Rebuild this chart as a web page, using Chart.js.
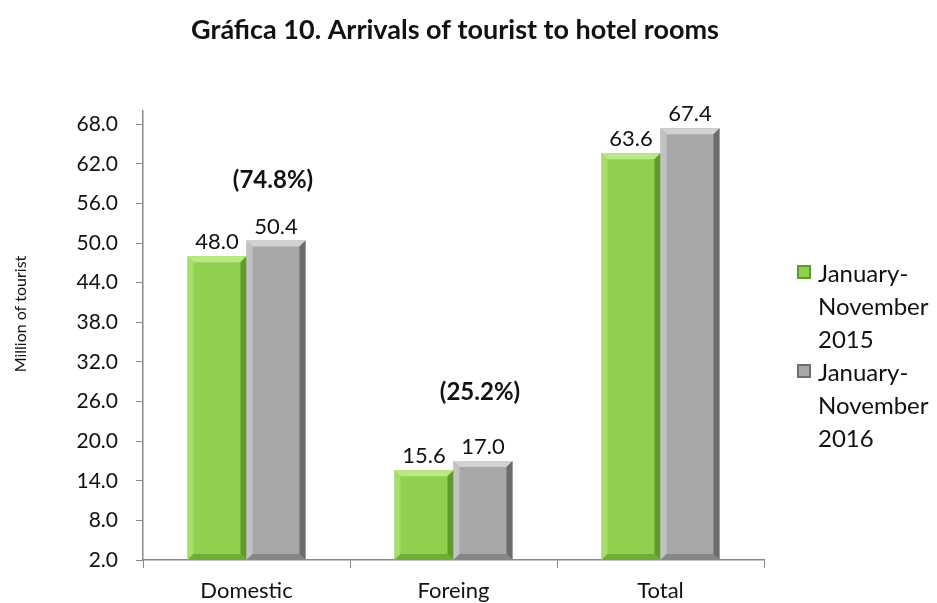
<!DOCTYPE html>
<html>
<head>
<meta charset="utf-8">
<script src="https://cdn.jsdelivr.net/npm/chart.js@4"></script>
<style>
  body { margin: 0; background: #fff; }
  #wrap { position: relative; width: 937px; height: 603px; overflow: hidden; }
  #legend { position: absolute; left: 797px; top: 256px; font-family: Lato, sans-serif; font-size: 24px; color: #111; line-height: 33px; white-space: nowrap; }
  .item { position: relative; padding-left: 21px; }
  .box { position: absolute; left: 0; top: 9px; width: 14px; height: 14px; }
</style>
</head>
<body>
<div id="wrap">
  <canvas id="chart" width="937" height="603"></canvas>
  <div id="legend"></div>
</div>
<script>
  const categories = ["Domestic", "Foreing", "Total"];
  const series2015 = [48.0, 15.6, 63.6];
  const series2016 = [50.4, 17.0, 67.4];
  const seriesNames = [["January-", "November", "2015"], ["January-", "November", "2016"]];
  const yTicks = [2, 8, 14, 20, 26, 32, 38, 44, 50, 56, 62, 68];
  const shareLabels = ["(74.8%)", "(25.2%)", null];
  const shareOffsets = [-60, -69, 0];

  const faces = [
    { face: "#8fd14f", top: "#b9e985", left: "#a6dd6c", right: "#5e9a2c", bottom: "#6fae36" },
    { face: "#a8a8a8", top: "#d2d2d2", left: "#c2c2c2", right: "#6c6c6c", bottom: "#868686" },
  ];
  const font = "Lato, sans-serif";

  const bevel = {
    id: "bevel",
    afterDatasetsDraw(chart) {
      const c = chart.ctx;
      chart.data.datasets.forEach((ds, di) => {
        const col = faces[di];
        chart.getDatasetMeta(di).data.forEach((el) => {
          const l = el.x - el.width / 2, r = el.x + el.width / 2, t = el.y, k = 6;
          const b = Math.min(el.base, chart.chartArea.bottom);
          const poly = (pts, fill) => {
            c.beginPath();
            c.moveTo(pts[0][0], pts[0][1]);
            pts.slice(1).forEach((p) => c.lineTo(p[0], p[1]));
            c.closePath();
            c.fillStyle = fill;
            c.fill();
          };
          poly([[l, t], [r, t], [r - k, t + k], [l + k, t + k]], col.top);
          poly([[l, t], [l + k, t + k], [l + k, b - k], [l, b]], col.left);
          poly([[r, t], [r, b], [r - k, b - k], [r - k, t + k]], col.right);
          poly([[l, b], [l + k, b - k], [r - k, b - k], [r, b]], col.bottom);
        });
      });
    },
  };

  const labels = {
    id: "labels",
    afterDraw(chart) {
      const c = chart.ctx;
      c.save();
      c.textAlign = "center";
      c.textBaseline = "middle";
      c.fillStyle = "#111";
      c.font = "22px " + font;
      chart.data.datasets.forEach((ds, di) => {
        chart.getDatasetMeta(di).data.forEach((el, i) => {
          c.fillText(ds.data[i].toFixed(1), el.x, el.y - 14);
        });
      });
      c.font = "bold 24px " + font;
      chart.getDatasetMeta(1).data.forEach((el, i) => {
        if (shareLabels[i]) c.fillText(shareLabels[i], el.x - 3, el.y + shareOffsets[i]);
      });
      c.font = "bold 27px " + font;
      c.fillText("Gráfica 10. Arrivals of tourist to hotel rooms", 455, 30);
      c.translate(21, 314);
      c.rotate(-Math.PI / 2);
      c.font = "16px " + font;
      c.fillText("Million of tourist", 0, 0);
      c.restore();
    },
  };

  new Chart(document.getElementById("chart"), {
    type: "bar",
    data: {
      labels: categories,
      datasets: [
        { label: seriesNames[0].join(" "), data: series2015, backgroundColor: faces[0].face, categoryPercentage: 0.57, barPercentage: 1 },
        { label: seriesNames[1].join(" "), data: series2016, backgroundColor: faces[1].face, categoryPercentage: 0.57, barPercentage: 1 },
      ],
    },
    options: {
      responsive: false,
      animation: false,
      layout: { padding: { left: 0, top: 111, right: 173, bottom: 0 } },
      plugins: { legend: { display: false }, title: { display: false }, tooltip: { enabled: false } },
      scales: {
        x: {
          grid: { drawOnChartArea: false, color: "#888", tickLength: 8, offset: true },
          border: { color: "#888", width: 1.5 },
          ticks: { color: "#111", font: { family: font, size: 22 }, padding: 10 },
          afterFit(s) { s.height = 43; },
        },
        y: {
          min: 2,
          max: 70,
          afterBuildTicks(s) { s.ticks = yTicks.map((v) => ({ value: v })); },
          grid: { drawOnChartArea: false, color: "#888", tickLength: 7 },
          border: { color: "#888", width: 1.5 },
          ticks: { color: "#111", font: { family: font, size: 21 }, padding: 18, callback: (v) => Number(v).toFixed(1) },
          afterFit(s) { s.width = 143; },
        },
      },
    },
    plugins: [bevel, labels],
  });

  const legend = document.getElementById("legend");
  seriesNames.forEach((lines, i) => {
    const item = document.createElement("div");
    item.className = "item";
    item.innerHTML = '<span class="box" style="background:' + faces[i].face + ';box-shadow: inset 0 0 0 2px ' + faces[i].right + '"></span>' + lines.join("<br>");
    legend.appendChild(item);
  });
</script>
</body>
</html>
